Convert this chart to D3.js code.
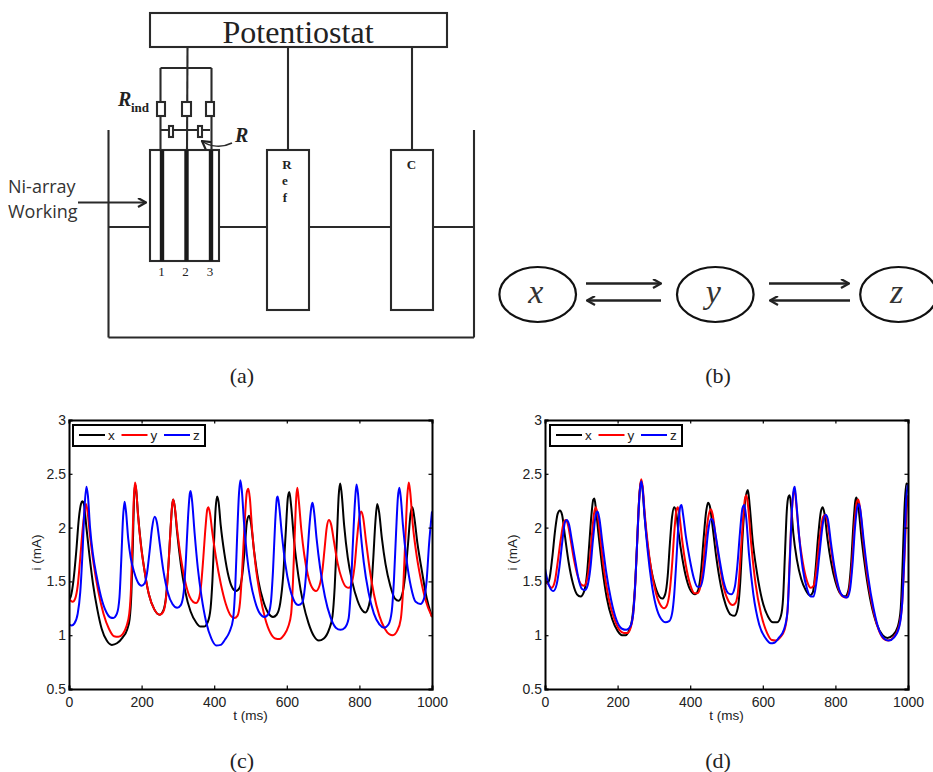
<!DOCTYPE html>
<html>
<head>
<meta charset="utf-8">
<script src="https://cdn.jsdelivr.net/npm/d3@7"></script>
<style>
  html, body { margin: 0; padding: 0; background: #fff; }
  svg { display: block; }
  .tick text { font-family: "Liberation Sans", sans-serif; font-size: 14px; fill: #222; }
  .lab { font-family: "Liberation Sans", sans-serif; font-size: 13.5px; fill: #222; }
  .cap { font-family: "Liberation Serif", serif; font-size: 22px; fill: #222; }
</style>
</head>
<body>
<div id="fig"></div>
<script>
// Values, [t (ms), i (mA)]
const cBlack = [[0,1.33],[5,1.36],[12,1.5],[20,1.78],[27,2.08],[33,2.22],[37,2.245],[41,2.22],[48,2.0],[56,1.75],[66,1.48],[78,1.24],[90,1.06],[104,0.95],[118,0.91],[132,0.925],[148,0.98],[160,1.05],[167,1.15],[172,1.4],[176,1.85],[179,2.25],[182,2.4],[185,2.35],[190,2.13],[198,1.85],[208,1.6],[220,1.38],[235,1.24],[250,1.19],[260,1.23],[268,1.38],[274,1.65],[280,2.0],[284,2.2],[287,2.26],[291,2.2],[298,1.95],[308,1.66],[320,1.41],[335,1.22],[350,1.12],[362,1.08],[372,1.08],[382,1.12],[390,1.25],[395,1.5],[400,1.9],[404,2.18],[408,2.29],[412,2.24],[418,2.02],[428,1.76],[440,1.54],[450,1.44],[460,1.41],[470,1.44],[478,1.58],[484,1.8],[490,2.05],[496,2.11],[501,2.05],[510,1.78],[522,1.5],[535,1.32],[550,1.2],[562,1.17],[572,1.19],[582,1.3],[590,1.55],[597,1.95],[603,2.28],[607,2.33],[612,2.2],[620,1.88],[632,1.55],[645,1.3],[660,1.11],[675,0.99],[688,0.95],[702,0.97],[716,1.05],[726,1.18],[732,1.45],[738,1.9],[743,2.3],[747,2.41],[751,2.32],[758,2.02],[768,1.72],[780,1.5],[795,1.32],[808,1.23],[816,1.21],[824,1.25],[832,1.4],[838,1.7],[844,2.05],[849,2.22],[854,2.15],[862,1.9],[872,1.66],[885,1.46],[898,1.34],[908,1.32],[918,1.38],[926,1.55],[934,1.85],[941,2.13],[946,2.19],[951,2.1],[960,1.85],[972,1.6],[985,1.35],[1000,1.17]];
const cRed = [[0,1.34],[5,1.32],[10,1.31],[17,1.34],[24,1.46],[31,1.72],[38,2.0],[44,2.18],[47,2.22],[51,2.15],[58,1.92],[68,1.66],[80,1.42],[95,1.2],[110,1.06],[124,0.99],[136,0.985],[148,1.01],[158,1.08],[166,1.2],[171,1.45],[175,1.9],[179,2.3],[182,2.42],[185,2.36],[190,2.12],[198,1.84],[208,1.6],[220,1.38],[235,1.24],[250,1.19],[260,1.22],[268,1.37],[274,1.65],[280,2.0],[284,2.2],[287,2.26],[291,2.2],[298,1.98],[308,1.72],[320,1.5],[332,1.36],[342,1.31],[350,1.3],[358,1.34],[364,1.47],[370,1.72],[376,2.0],[381,2.17],[384,2.19],[388,2.14],[395,1.95],[405,1.72],[418,1.48],[432,1.29],[446,1.18],[456,1.16],[464,1.18],[471,1.3],[477,1.6],[484,2.05],[490,2.33],[494,2.36],[498,2.28],[505,1.95],[514,1.65],[526,1.38],[540,1.16],[555,1.02],[568,0.97],[580,0.965],[592,1.0],[604,1.08],[612,1.2],[617,1.5],[622,1.95],[626,2.28],[629,2.37],[633,2.25],[640,1.98],[648,1.75],[658,1.56],[670,1.44],[680,1.41],[690,1.46],[698,1.6],[704,1.8],[710,2.0],[716,2.07],[722,2.03],[730,1.87],[740,1.67],[752,1.52],[763,1.45],[771,1.44],[780,1.5],[787,1.65],[793,1.88],[800,2.1],[805,2.15],[810,2.1],[818,1.88],[828,1.62],[840,1.38],[855,1.18],[870,1.06],[882,1.01],[892,1.0],[904,1.04],[914,1.15],[920,1.4],[926,1.85],[932,2.3],[936,2.42],[940,2.33],[947,2.03],[956,1.78],[968,1.54],[982,1.33],[1000,1.17]];
const cBlue = [[0,1.1],[7,1.09],[15,1.11],[24,1.2],[31,1.4],[37,1.75],[43,2.2],[48,2.38],[52,2.3],[58,2.0],[66,1.75],[76,1.55],[88,1.36],[102,1.22],[114,1.165],[122,1.16],[132,1.2],[139,1.35],[144,1.7],[149,2.1],[153,2.24],[157,2.15],[163,1.9],[170,1.72],[180,1.58],[190,1.49],[200,1.46],[208,1.48],[215,1.58],[222,1.78],[229,2.0],[236,2.1],[242,2.05],[250,1.85],[260,1.6],[272,1.4],[285,1.29],[298,1.255],[308,1.28],[316,1.4],[322,1.7],[328,2.1],[333,2.32],[335,2.34],[339,2.25],[346,1.95],[355,1.62],[365,1.36],[378,1.12],[392,0.97],[405,0.905],[418,0.91],[430,0.96],[442,1.03],[452,1.15],[458,1.45],[463,1.9],[468,2.3],[472,2.44],[476,2.35],[482,2.05],[490,1.75],[500,1.5],[512,1.32],[526,1.2],[538,1.17],[548,1.19],[556,1.3],[562,1.6],[568,2.05],[573,2.28],[575,2.29],[579,2.2],[586,1.95],[596,1.66],[608,1.44],[620,1.32],[632,1.28],[642,1.3],[650,1.45],[656,1.7],[662,2.0],[668,2.2],[671,2.23],[675,2.15],[682,1.9],[692,1.62],[705,1.36],[720,1.17],[735,1.07],[748,1.05],[760,1.07],[770,1.15],[776,1.4],[782,1.85],[788,2.25],[792,2.4],[796,2.32],[802,2.02],[812,1.68],[825,1.4],[840,1.2],[855,1.1],[868,1.07],[880,1.1],[889,1.22],[895,1.5],[901,1.95],[906,2.28],[910,2.37],[914,2.28],[920,2.02],[930,1.7],[942,1.45],[955,1.31],[968,1.29],[978,1.34],[985,1.5],[992,1.85],[1000,2.15]];

const dBlack = [[0,1.55],[6,1.48],[12,1.52],[20,1.72],[28,1.98],[35,2.13],[41,2.16],[47,2.12],[55,1.92],[65,1.68],[77,1.48],[88,1.38],[98,1.36],[108,1.41],[116,1.58],[122,1.85],[128,2.12],[133,2.26],[136,2.27],[140,2.18],[147,1.95],[157,1.65],[170,1.35],[185,1.15],[200,1.04],[212,1.0],[222,1.0],[232,1.05],[240,1.15],[247,1.4],[253,1.8],[259,2.25],[264,2.43],[268,2.38],[274,2.12],[282,1.85],[292,1.62],[304,1.45],[315,1.36],[323,1.34],[331,1.38],[338,1.55],[344,1.85],[350,2.1],[356,2.19],[361,2.15],[368,1.95],[378,1.72],[390,1.52],[402,1.41],[413,1.38],[422,1.42],[430,1.6],[437,1.9],[444,2.15],[449,2.23],[454,2.2],[462,2.0],[472,1.72],[485,1.45],[498,1.28],[512,1.19],[522,1.18],[531,1.25],[538,1.5],[544,1.9],[550,2.2],[556,2.33],[559,2.35],[564,2.2],[572,1.88],[584,1.58],[598,1.33],[615,1.17],[628,1.12],[640,1.12],[650,1.18],[656,1.35],[661,1.75],[666,2.15],[671,2.29],[674,2.3],[678,2.2],[684,1.95],[694,1.7],[706,1.52],[718,1.42],[730,1.37],[738,1.4],[745,1.6],[752,1.9],[760,2.15],[765,2.19],[770,2.13],[778,1.9],[788,1.68],[800,1.5],[815,1.38],[827,1.36],[836,1.42],[843,1.65],[850,2.05],[855,2.25],[858,2.28],[863,2.2],[872,1.9],[884,1.58],[898,1.3],[914,1.1],[930,1.0],[943,0.975],[958,1.0],[972,1.08],[980,1.25],[985,1.65],[990,2.15],[995,2.41],[1000,2.4]];
const dRed = [[0,1.55],[8,1.48],[18,1.44],[27,1.5],[35,1.68],[43,1.88],[51,2.04],[57,2.07],[63,2.03],[71,1.88],[80,1.7],[90,1.55],[100,1.47],[108,1.46],[116,1.52],[123,1.68],[129,1.92],[135,2.13],[140,2.19],[145,2.12],[152,1.92],[162,1.62],[175,1.35],[190,1.16],[205,1.05],[217,1.02],[227,1.02],[236,1.07],[243,1.2],[249,1.5],[255,1.95],[261,2.35],[265,2.45],[269,2.38],[275,2.12],[283,1.85],[293,1.6],[305,1.4],[318,1.28],[328,1.25],[336,1.28],[344,1.42],[350,1.65],[356,1.95],[362,2.16],[366,2.19],[370,2.12],[378,1.88],[388,1.65],[400,1.47],[412,1.39],[420,1.39],[428,1.45],[435,1.62],[442,1.88],[450,2.1],[457,2.17],[462,2.12],[470,1.92],[480,1.68],[492,1.45],[505,1.32],[517,1.28],[525,1.3],[533,1.45],[539,1.75],[545,2.05],[551,2.27],[555,2.3],[560,2.18],[568,1.85],[580,1.48],[595,1.2],[612,1.02],[625,0.955],[635,0.95],[648,0.98],[660,1.05],[668,1.22],[674,1.7],[680,2.15],[685,2.33],[688,2.35],[692,2.22],[700,1.92],[710,1.68],[722,1.5],[732,1.44],[740,1.46],[748,1.62],[756,1.88],[766,2.1],[772,2.12],[778,2.05],[786,1.85],[796,1.62],[808,1.44],[820,1.36],[830,1.35],[838,1.42],[846,1.68],[853,2.05],[859,2.24],[863,2.26],[868,2.18],[876,1.9],[888,1.55],[902,1.27],[918,1.06],[932,0.97],[945,0.95],[960,0.98],[975,1.08],[984,1.3],[990,1.7],[996,2.15],[1000,2.3]];
const dBlue = [[0,1.62],[6,1.52],[14,1.44],[23,1.41],[32,1.47],[40,1.64],[48,1.88],[55,2.05],[60,2.07],[66,2.03],[74,1.88],[84,1.68],[94,1.5],[102,1.43],[110,1.42],[118,1.47],[125,1.62],[132,1.88],[140,2.12],[145,2.15],[150,2.08],[158,1.86],[168,1.6],[182,1.33],[197,1.14],[212,1.06],[224,1.05],[235,1.08],[243,1.2],[249,1.5],[255,1.95],[261,2.33],[265,2.43],[269,2.36],[275,2.08],[283,1.78],[293,1.5],[305,1.28],[320,1.15],[332,1.12],[342,1.13],[350,1.2],[356,1.38],[362,1.7],[368,2.05],[373,2.2],[376,2.21],[380,2.13],[388,1.92],[398,1.72],[410,1.53],[420,1.45],[428,1.45],[435,1.53],[442,1.72],[450,1.98],[457,2.08],[462,2.07],[470,1.93],[480,1.72],[492,1.5],[505,1.39],[514,1.38],[523,1.45],[530,1.65],[537,1.95],[544,2.18],[549,2.21],[554,2.1],[562,1.75],[574,1.38],[590,1.1],[608,0.97],[622,0.925],[632,0.93],[645,0.98],[658,1.05],[668,1.22],[674,1.65],[680,2.15],[685,2.35],[688,2.38],[692,2.25],[700,1.92],[710,1.62],[722,1.43],[732,1.36],[740,1.36],[748,1.5],[756,1.75],[766,2.05],[773,2.12],[779,2.08],[788,1.85],[798,1.62],[810,1.43],[822,1.36],[832,1.35],[840,1.42],[847,1.65],[854,2.0],[861,2.2],[865,2.22],[870,2.13],[878,1.88],[890,1.55],[905,1.25],[920,1.05],[934,0.97],[947,0.95],[962,0.98],[976,1.08],[984,1.3],[990,1.75],[995,2.25],[1000,2.4]];

const seriesNames = ["x", "y", "z"];
const seriesColors = ["#000000", "#ff0000", "#0000ff"];
const xTicks = [0, 200, 400, 600, 800, 1000];
const yTicks = [0.5, 1, 1.5, 2, 2.5, 3];

const svg = d3.select("#fig").append("svg")
    .attr("width", 933)
    .attr("height", 772)
    .attr("viewBox", "0 0 933 772");

// Arrow heads
svg.append("defs").append("marker")
    .attr("id", "head")
    .attr("viewBox", "0 0 10 10")
    .attr("refX", 9)
    .attr("refY", 5)
    .attr("markerWidth", 10)
    .attr("markerHeight", 10)
    .attr("markerUnits", "userSpaceOnUse")
    .attr("orient", "auto")
    .append("path")
    .attr("d", "M1,0.5 L9,5 L1,9.5")
    .attr("fill", "none")
    .attr("stroke", "#222")
    .attr("stroke-width", 2.2);

// ---- panel (a) ----
const a = svg.append("g").attr("stroke", "#2a2a2a").attr("fill", "none").attr("stroke-width", 2.1);

const wires = [
    [187.5, 47, 187, 150], [288, 47, 288, 150], [412, 47, 412, 150],
    [160.5, 68, 211.5, 68], [160.5, 68, 160.5, 150], [211.5, 68, 211.5, 150],
    [161, 130, 210, 130],
    [108.5, 130, 108.5, 337.5], [108.5, 337.5, 474, 337.5], [474, 337.5, 474, 130],
    [108.5, 227, 149, 227], [219, 227, 267, 227], [309, 227, 391, 227], [433, 227, 474, 227]
];
a.selectAll(".wire").data(wires).enter().append("line")
    .attr("class", "wire")
    .attr("x1", d => d[0]).attr("y1", d => d[1])
    .attr("x2", d => d[2]).attr("y2", d => d[3]);

// x, y, w, h
const boxes = [
    [150, 13, 297, 34], [150, 150, 69, 111], [267, 150, 42, 160], [391, 150, 42, 160],
    [157, 102, 8, 14], [182, 102, 9, 14], [206, 102, 8, 14],
    [169, 126, 4, 11], [198, 126, 4, 11]
];
a.selectAll(".box").data(boxes).enter().append("rect")
    .attr("class", "box")
    .attr("x", d => d[0]).attr("y", d => d[1])
    .attr("width", d => d[2]).attr("height", d => d[3])
    .attr("fill", "#fff");

const electrodes = [162, 186.5, 211];
a.selectAll(".el").data(electrodes).enter().append("line")
    .attr("x1", d => d).attr("x2", d => d)
    .attr("y1", 150).attr("y2", 261)
    .attr("stroke", "#1a1a1a")
    .attr("stroke-width", 4.4);

a.append("line")
    .attr("x1", 78).attr("y1", 202.5).attr("x2", 146).attr("y2", 202.5)
    .attr("stroke-width", 1.8)
    .attr("marker-end", "url(#head)");
a.append("path")
    .attr("d", "M232,143 C222,148 210,147 202,141")
    .attr("stroke-width", 1.5)
    .attr("marker-end", "url(#head)");

const diagramText = [
    { t: "Potentiostat", x: 298, y: 43, size: 32, family: "Liberation Serif", anchor: "middle" },
    { t: "Ni-array", x: 8, y: 193, size: 18, family: "Open Sans", fill: "#333" },
    { t: "Working", x: 8, y: 218, size: 18, family: "Open Sans", fill: "#333" },
    { t: "R", x: 118, y: 106, size: 20, family: "Liberation Serif", style: "italic", weight: "bold" },
    { t: "ind", x: 131, y: 112, size: 13, family: "Liberation Serif", weight: "bold" },
    { t: "R", x: 235, y: 142, size: 20, family: "Liberation Serif", style: "italic", weight: "bold" },
    { t: "R", x: 287, y: 169, size: 13, family: "Liberation Serif", weight: "bold", anchor: "middle" },
    { t: "e", x: 285, y: 185, size: 13, family: "Liberation Serif", weight: "bold", anchor: "middle" },
    { t: "f", x: 285, y: 202, size: 13, family: "Liberation Serif", weight: "bold", anchor: "middle" },
    { t: "C", x: 411.5, y: 169, size: 13, family: "Liberation Serif", weight: "bold", anchor: "middle" },
    { t: "1", x: 161.5, y: 276, size: 13, family: "Liberation Serif", anchor: "middle" },
    { t: "2", x: 185.5, y: 276, size: 13, family: "Liberation Serif", anchor: "middle" },
    { t: "3", x: 210, y: 276, size: 13, family: "Liberation Serif", anchor: "middle" }
];
svg.selectAll(".dt").data(diagramText).enter().append("text")
    .attr("class", "dt")
    .attr("x", d => d.x).attr("y", d => d.y)
    .attr("text-anchor", d => d.anchor || "start")
    .attr("font-family", d => d.family)
    .attr("font-size", d => d.size)
    .attr("font-style", d => d.style || "normal")
    .attr("font-weight", d => d.weight || "normal")
    .attr("fill", d => d.fill || "#222")
    .text(d => d.t);

// ---- panel (b) ----
const states = [{ name: "x", cx: 537.7 }, { name: "y", cx: 715.3 }, { name: "z", cx: 898.5 }];
svg.selectAll(".state").data(states).enter().append("ellipse")
    .attr("class", "state")
    .attr("cx", d => d.cx).attr("cy", 294.5)
    .attr("rx", 38.3).attr("ry", 27.5)
    .attr("fill", "none").attr("stroke", "#111").attr("stroke-width", 2.2);
svg.selectAll(".stateLab").data(states).enter().append("text")
    .attr("class", "stateLab")
    .attr("x", d => d.cx - 2).attr("y", 303)
    .attr("text-anchor", "middle")
    .attr("font-family", "Liberation Serif")
    .attr("font-style", "italic")
    .attr("font-size", 34)
    .attr("fill", "#333")
    .text(d => d.name);

const arrows = [
    [586, 283.5, 661, 283.5], [661, 300.5, 587, 300.5],
    [769, 283.5, 849, 283.5], [850, 300.5, 770, 300.5]
];
svg.selectAll(".rx").data(arrows).enter().append("line")
    .attr("class", "rx")
    .attr("x1", d => d[0]).attr("y1", d => d[1])
    .attr("x2", d => d[2]).attr("y2", d => d[3])
    .attr("stroke", "#222").attr("stroke-width", 2.4)
    .attr("marker-end", "url(#head)");

// ---- panels (c) and (d) ----
function drawPanel(left, series, legendX) {
    const w = 363, h = 269;
    const g = svg.append("g").attr("transform", `translate(${left}, 420)`);
    const x = d3.scaleLinear().domain([0, 1000]).range([0, w]);
    const y = d3.scaleLinear().domain([0.5, 3]).range([h, 0]);
    const line = d3.line().x(d => x(d[0])).y(d => y(d[1])).curve(d3.curveMonotoneX);

    const clipId = "clip" + left;
    g.append("clipPath").attr("id", clipId).append("rect").attr("width", w).attr("height", h);

    g.append("g").attr("clip-path", `url(#${clipId})`)
        .selectAll("path").data(series).enter().append("path")
        .attr("d", line)
        .attr("fill", "none")
        .attr("stroke", (d, i) => seriesColors[i])
        .attr("stroke-width", 2);

    // bottom and left axes carry labels, top and right only ticks
    const axes = [
        g.append("g").attr("transform", `translate(0, ${h})`)
            .call(d3.axisBottom(x).tickValues(xTicks).tickSize(-3.5).tickPadding(8).tickFormat(d3.format("d"))),
        g.append("g")
            .call(d3.axisLeft(y).tickValues(yTicks).tickSize(-3.5).tickPadding(3).tickFormat(d => d)),
        g.append("g")
            .call(d3.axisTop(x).tickValues(xTicks).tickSize(-3.5).tickFormat("")),
        g.append("g").attr("transform", `translate(${w}, 0)`)
            .call(d3.axisRight(y).tickValues(yTicks).tickSize(-3.5).tickFormat(""))
    ];
    axes.forEach(ax => {
        ax.attr("font-family", null).attr("font-size", null);
        ax.select(".domain").attr("stroke", "#000").attr("stroke-width", 2);
        ax.selectAll(".tick line").attr("stroke", "#000").attr("stroke-width", 1.2);
    });

    g.append("text").attr("class", "lab")
        .attr("x", w / 2).attr("y", 300)
        .attr("text-anchor", "middle")
        .text("t (ms)");
    g.append("text").attr("class", "lab")
        .attr("transform", `translate(${-28}, ${h / 2 - 2}) rotate(-90)`)
        .attr("text-anchor", "middle")
        .text("i (mA)");

    // Legend
    const leg = g.append("g").attr("transform", `translate(${legendX}, 5)`);
    leg.append("rect")
        .attr("width", 132).attr("height", 21)
        .attr("fill", "#fff").attr("stroke", "#000").attr("stroke-width", 2);
    seriesNames.forEach((name, i) => {
        const sx = 6 + i * 42.5;
        leg.append("line")
            .attr("x1", sx).attr("x2", sx + 26)
            .attr("y1", 10).attr("y2", 10)
            .attr("stroke", seriesColors[i]).attr("stroke-width", 2);
        leg.append("text").attr("class", "lab")
            .attr("x", sx + 29).attr("y", 15)
            .attr("font-size", 14)
            .text(name);
    });
}

drawPanel(69, [cBlack, cRed, cBlue], 4);
drawPanel(545, [dBlack, dRed, dBlue], 5);

// Captions
const captions = [["(a)", 242, 383], ["(b)", 718, 383], ["(c)", 242, 768], ["(d)", 718, 768]];
svg.selectAll(".cap").data(captions).enter().append("text")
    .attr("class", "cap")
    .attr("x", d => d[1]).attr("y", d => d[2])
    .attr("text-anchor", "middle")
    .text(d => d[0]);
</script>
</body>
</html>
